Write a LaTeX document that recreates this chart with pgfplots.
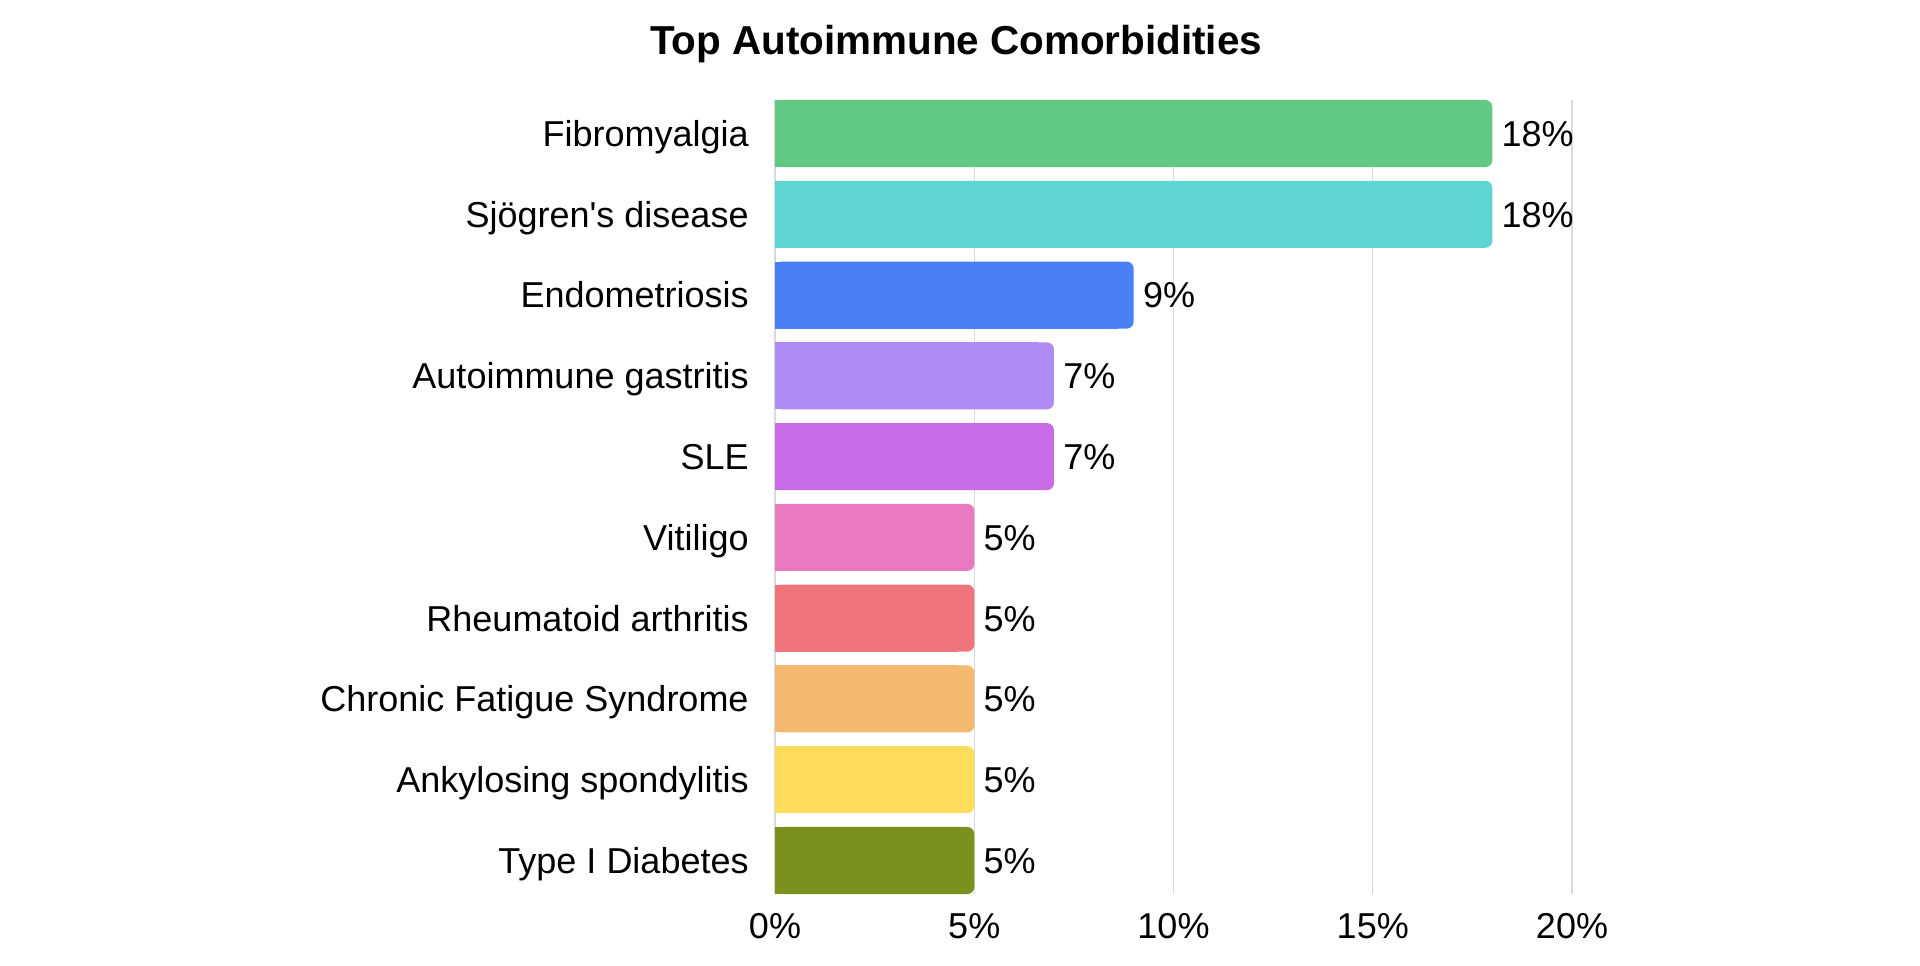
\documentclass[border=0pt]{standalone}
\usepackage{fontspec}
\setmainfont{Liberation Sans}
\usepackage{pgfplots}
\pgfplotsset{compat=1.18}
\definecolor{c0}{HTML}{62C983}
\definecolor{c1}{HTML}{5DD5D4}
\definecolor{c2}{HTML}{4A80F6}
\definecolor{c3}{HTML}{AF8CF5}
\definecolor{c4}{HTML}{C96BE6}
\definecolor{c5}{HTML}{E97AC2}
\definecolor{c6}{HTML}{F0757A}
\definecolor{c7}{HTML}{F4B86E}
\definecolor{c8}{HTML}{FFDD5C}
\definecolor{c9}{HTML}{7A911E}
\definecolor{gridc}{HTML}{DADADA}
\newcommand{\rbar}[3]{%
  \addplot[draw=none, fill=#1, rounded corners=3.5pt,
    nodes near coords={\pgfmathprintnumber{\pgfplotspointmeta}\%}] coordinates {(#2,#3)};
  \addplot[draw=none, fill=#1, x filter/.expression={x-0.4}] coordinates {(#2,#3)};
}
\begin{document}
\begin{tikzpicture}
\path[use as bounding box] (0,0) rectangle (960pt,482.5pt);
\node[anchor=base, font=\bfseries\fontsize{20.2}{24}\selectfont] at (478pt,455pt) {Top Autoimmune Comorbidities};
\begin{axis}[
  at={(387.5pt,35.5pt)}, anchor=south west,
  scale only axis, width=398.5pt, height=397pt,
  xbar, bar width=0.83, bar shift=0pt,
  xmin=0, xmax=20, ymin=-0.415, ymax=9.415, y dir=reverse,
  xtick={0,5,10,15,20},
  xticklabel={\pgfmathprintnumber{\tick}\%},
  ytick={0,...,9},
  yticklabels={Fibromyalgia, Sj\"ogren\textquotesingle s disease, Endometriosis, Autoimmune gastritis, SLE, Vitiligo, Rheumatoid arthritis, Chronic Fatigue Syndrome, Ankylosing spondylitis, Type I Diabetes},
  axis line style={draw=none},
  major tick length=0pt, tick style={draw=none},
  xmajorgrids, major grid style={draw=gridc, line width=0.6pt},
  /pgf/number format/assume math mode=true,
  tick label style={font=\fontsize{18}{21}\selectfont},
  yticklabel style={anchor=east, inner sep=0pt, text height=12.9pt, text depth=0pt, xshift=-13pt},
  xticklabel style={anchor=north, inner sep=0pt, yshift=-9.5pt},
  nodes near coords style={anchor=west, inner sep=0pt, text height=12.9pt, text depth=0pt, xshift=4.5pt, font=\fontsize{18}{21}\selectfont},
]
\rbar{c0}{18}{0}
\rbar{c1}{18}{1}
\rbar{c2}{9}{2}
\rbar{c3}{7}{3}
\rbar{c4}{7}{4}
\rbar{c5}{5}{5}
\rbar{c6}{5}{6}
\rbar{c7}{5}{7}
\rbar{c8}{5}{8}
\rbar{c9}{5}{9}
\end{axis}
\end{tikzpicture}
\end{document}
